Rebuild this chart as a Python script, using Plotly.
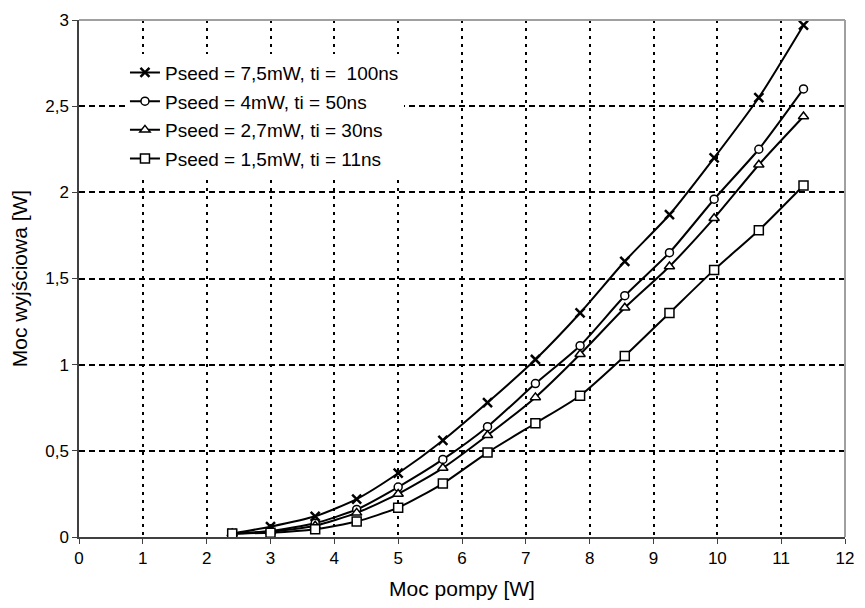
import plotly.graph_objects as go

pump_power = [2.4, 3.0, 3.7, 4.35, 5.0, 5.7, 6.4, 7.15, 7.85, 8.55, 9.25, 9.95, 10.65, 11.35]

p_75 = [0.02, 0.06, 0.12, 0.22, 0.37, 0.56, 0.78, 1.03, 1.30, 1.60, 1.87, 2.20, 2.55, 2.97]
p_4 = [0.02, 0.035, 0.08, 0.16, 0.29, 0.45, 0.64, 0.89, 1.11, 1.40, 1.65, 1.96, 2.25, 2.60]
p_27 = [0.02, 0.03, 0.065, 0.14, 0.25, 0.40, 0.59, 0.81, 1.06, 1.33, 1.57, 1.85, 2.16, 2.44]
p_15 = [0.02, 0.025, 0.045, 0.09, 0.17, 0.31, 0.49, 0.66, 0.82, 1.05, 1.30, 1.55, 1.78, 2.04]

names = ["Pseed = 7,5mW, ti =  100ns", "Pseed = 4mW, ti = 50ns",
         "Pseed = 2,7mW, ti = 30ns", "Pseed = 1,5mW, ti = 11ns"]
series = [p_75, p_4, p_27, p_15]
symbols = ["x-thin", "circle", "triangle-up", "square"]
sizes = [9, 8, 9, 9]
fills = ["black", "white", "white", "white"]

x_ticks = list(range(0, 13))
y_ticks = [0, 0.5, 1, 1.5, 2, 2.5, 3]
y_tick_text = ["0", "0,5", "1", "1,5", "2", "2,5", "3"]

fig = go.Figure()
for i, (nm, ys, sym, sz, fc) in enumerate(zip(names, series, symbols, sizes, fills)):
    fig.add_trace(go.Scatter(
        x=pump_power, y=ys, name=nm, mode="lines+markers",
        line=dict(color="black", width=2, shape="spline", smoothing=0.6),
        marker=dict(symbol=sym, size=sz, color=fc,
                    line=dict(color="black", width=1.5 if i else 2.5)),
        legendgroup=str(i),
    ))

axis_font = dict(family="Liberation Sans, Arial, sans-serif", size=17, color="black")
fig.update_layout(
    width=865, height=608,
    margin=dict(l=79, r=11, t=19, b=71),
    paper_bgcolor="white", plot_bgcolor="white",
    font=dict(family="Liberation Sans, Arial, sans-serif", color="black"),
    showlegend=True,
    legend=dict(x=0.06, y=0.935, xanchor="left", yanchor="top",
                bgcolor="rgba(255,255,255,1)", borderwidth=0,
                font=dict(size=19, family="Liberation Sans, Arial, sans-serif"),
                tracegroupgap=1, itemwidth=30),
    xaxis=dict(range=[0, 12], tickvals=x_ticks, ticks="outside", ticklen=5,
               tickcolor="#404040", showline=True, linecolor="#404040", linewidth=1.5,
               showgrid=True, gridcolor="black", gridwidth=1.5, griddash="3px,5px",
               zeroline=False, tickfont=axis_font,
               title=dict(text="Moc pompy [W]", font=dict(size=21), standoff=14)),
    yaxis=dict(range=[0, 3], tickvals=y_ticks, ticktext=y_tick_text, ticks="outside",
               ticklen=5, tickcolor="#404040", showline=True, linecolor="#404040",
               linewidth=1.5, showgrid=True, gridcolor="black", gridwidth=1.5,
               griddash="6px,4px", zeroline=False, tickfont=axis_font,
               title=dict(text="Moc wyjściowa [W]", font=dict(size=21), standoff=12)),
    shapes=[
        dict(type="line", xref="paper", yref="paper", x0=0, x1=1, y0=1, y1=1,
             line=dict(color="#a0a0a0", width=2)),
        dict(type="line", xref="paper", yref="paper", x0=1, x1=1, y0=0, y1=1,
             line=dict(color="#a0a0a0", width=2)),
    ],
)

fig.write_html("out.html")
